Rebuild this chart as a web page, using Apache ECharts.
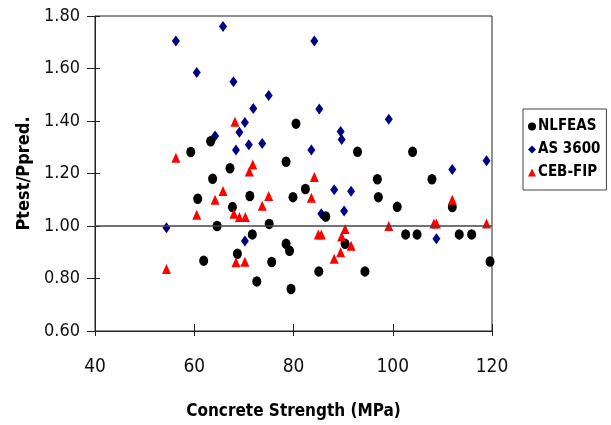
<!DOCTYPE html>
<html>
<head>
<meta charset="utf-8">
<script src="https://cdn.jsdelivr.net/npm/echarts@6/dist/echarts.min.js"></script>
<style>
  html, body { margin: 0; padding: 0; background: #fff; }
  #chart { width: 611px; height: 425px; }
</style>
</head>
<body>
<div id="chart"></div>
<script>
  // values: [concrete strength, Ptest/Ppred]
  var nlfeas = [
    [80.5, 1.39], [63.3, 1.323], [59.3, 1.282], [78.5, 1.245], [67.2, 1.22], [63.7, 1.18],
    [92.9, 1.283], [104.0, 1.283], [60.7, 1.104], [71.2, 1.114], [79.9, 1.11], [67.7, 1.072],
    [75.1, 1.008], [64.6, 1.0], [71.7, 0.968], [78.5, 0.932], [79.2, 0.906], [68.7, 0.894],
    [61.9, 0.868], [75.6, 0.863], [72.6, 0.789], [79.5, 0.76], [82.4, 1.141], [96.9, 1.178],
    [97.1, 1.11], [107.9, 1.178], [86.5, 1.036], [100.9, 1.073], [112.0, 1.072], [102.6, 0.968],
    [104.9, 0.968], [113.4, 0.968], [115.9, 0.968], [90.4, 0.932], [85.1, 0.827], [94.4, 0.827],
    [119.6, 0.865]
  ];
  var as3600 = [
    [56.3, 1.705], [65.8, 1.76], [60.5, 1.585], [67.9, 1.55], [75.0, 1.497], [71.9, 1.448],
    [70.2, 1.394], [69.1, 1.357], [64.2, 1.343], [68.4, 1.29], [71.0, 1.31], [73.7, 1.314],
    [84.2, 1.705], [85.2, 1.446], [99.2, 1.407], [89.5, 1.36], [89.7, 1.33], [83.6, 1.29],
    [112.0, 1.215], [118.9, 1.249], [54.4, 0.993], [70.2, 0.943], [88.2, 1.138], [91.6, 1.132],
    [85.6, 1.047], [90.2, 1.057], [108.8, 0.951]
  ];
  var cebfip = [
    [68.2, 1.397], [56.3, 1.26], [71.8, 1.234], [71.1, 1.208], [65.8, 1.133], [64.2, 1.10],
    [75.0, 1.114], [73.7, 1.077], [60.5, 1.043], [68.0, 1.047], [69.1, 1.034], [70.3, 1.034],
    [54.4, 0.836], [68.4, 0.862], [70.2, 0.864], [84.2, 1.187], [83.6, 1.108], [85.0, 0.968],
    [85.6, 0.968], [90.4, 0.989], [89.7, 0.96], [91.6, 0.925], [89.5, 0.90], [88.2, 0.875],
    [99.2, 1.0], [108.3, 1.01], [108.8, 1.01], [112.0, 1.10], [118.9, 1.01]
  ];

  var narrow = '"DejaVu Sans Condensed", sans-serif';

  var myChart = echarts.init(document.getElementById('chart'));
  var option = {
    animation: false,
    grid: {
      left: 95,
      right: 119,
      top: 16,
      bottom: 94,
      show: true,
      borderColor: '#222',
      borderWidth: 1
    },
    legend: {
      orient: 'vertical',
      left: 523,
      top: 109,
      width: 86,
      height: 81,
      padding: [10, 6, 10, 5],
      itemGap: 8,
      itemWidth: 8,
      itemHeight: 8,
      borderColor: '#444',
      borderWidth: 1,
      textStyle: {
        fontFamily: narrow,
        fontWeight: 'bold',
        fontSize: 15,
        color: '#000',
        padding: [0, 0, 0, -3]
      },
      data: ['NLFEAS', 'AS 3600', 'CEB-FIP']
    },
    xAxis: [{
      type: 'value',
      min: 40,
      max: 120,
      interval: 20,
      name: 'Concrete Strength (MPa)',
      nameLocation: 'middle',
      nameGap: 72,
      nameTextStyle: {
        fontFamily: narrow,
        fontWeight: 'bold',
        fontSize: 17,
        color: '#000'
      },
      axisLine: { lineStyle: { color: '#222', width: 1 } },
      axisTick: { length: 5, lineStyle: { color: '#222' } },
      axisLabel: {
        fontFamily: narrow,
        fontSize: 19,
        color: '#111',
        margin: 27
      },
      splitLine: { show: false }
    }, {
      type: 'value',
      min: 40,
      max: 120,
      interval: 20,
      position: 'bottom',
      axisLine: { show: false },
      axisTick: { inside: true, length: 7, lineStyle: { color: '#222' } },
      axisLabel: { show: false },
      splitLine: { show: false }
    }],
    yAxis: [{
      type: 'value',
      min: 0.6,
      max: 1.8,
      interval: 0.2,
      name: 'Ptest/Ppred.',
      nameLocation: 'middle',
      nameGap: 58,
      nameTextStyle: {
        fontFamily: narrow,
        fontWeight: 'bold',
        fontSize: 18,
        color: '#000'
      },
      axisLine: { lineStyle: { color: '#222', width: 1 } },
      axisTick: { length: 8, lineStyle: { color: '#222' } },
      axisLabel: {
        fontFamily: narrow,
        fontSize: 18,
        color: '#111',
        margin: 15,
        formatter: function (v) { return v.toFixed(2); }
      },
      splitLine: { show: false }
    }, {
      type: 'value',
      min: 0.6,
      max: 1.8,
      interval: 0.2,
      position: 'left',
      axisLine: { show: false },
      axisTick: { inside: true, length: 5, lineStyle: { color: '#222' } },
      axisLabel: { show: false },
      splitLine: { show: false }
    }],
    series: [{
      name: 'NLFEAS',
      type: 'scatter',
      symbol: 'circle',
      symbolSize: [9, 10.5],
      itemStyle: { color: '#000', opacity: 1 },
      data: nlfeas,
      z: 3,
      markLine: {
        silent: true,
        symbol: 'none',
        label: { show: false },
        lineStyle: { color: '#444', width: 1.5, type: 'solid' },
        data: [{ yAxis: 1.0 }]
      }
    }, {
      name: 'AS 3600',
      type: 'scatter',
      symbol: 'diamond',
      symbolSize: [8, 11],
      itemStyle: { color: '#000080', opacity: 1 },
      data: as3600,
      z: 2
    }, {
      name: 'CEB-FIP',
      type: 'scatter',
      symbol: 'triangle',
      symbolSize: [9, 10],
      itemStyle: { color: '#ff0000', opacity: 1 },
      data: cebfip,
      z: 4
    }]
  };
  myChart.setOption(option);
</script>
</body>
</html>
